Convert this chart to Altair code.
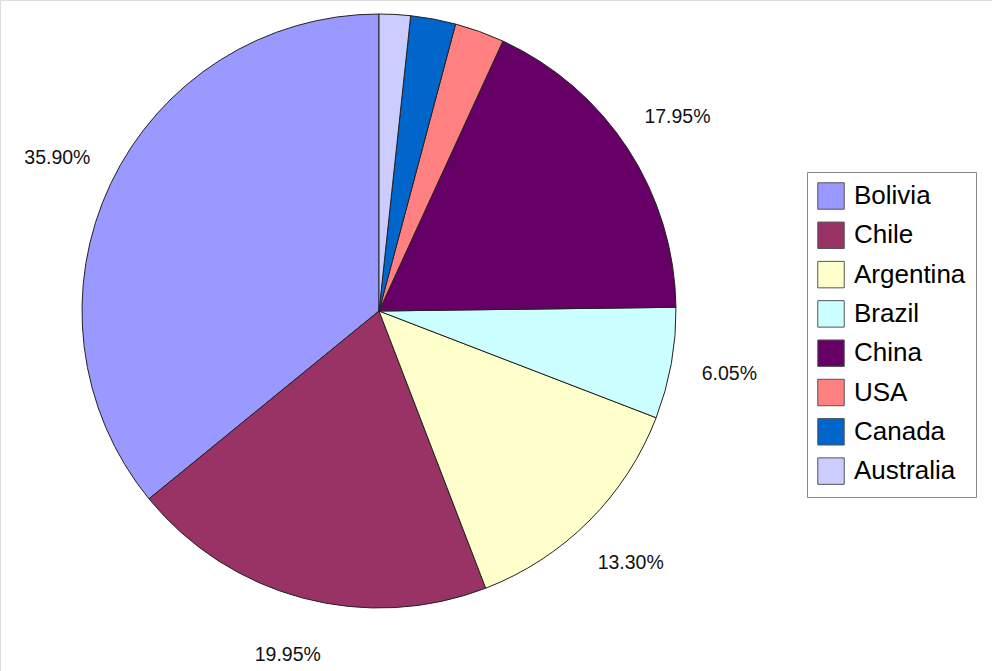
import altair as alt
import pandas as pd

countries = ["Bolivia", "Chile", "Argentina", "Brazil", "China", "USA", "Canada", "Australia"]
shares = [35.90, 19.95, 13.30, 6.05, 17.95, 2.70, 2.45, 1.70]
labels = ["35.90%", "19.95%", "13.30%", "6.05%", "17.95%", "", "", ""]
clockwise_order = [7, 6, 5, 4, 3, 2, 1, 0]
colors = ["#9999FF", "#993366", "#FFFFCC", "#CCFFFF", "#660066", "#FF8080", "#0066CC", "#CCCCFF"]

df = pd.DataFrame({
    "country": countries,
    "share": shares,
    "label": labels,
    "ord": clockwise_order,
})

base = alt.Chart(df).encode(
    theta=alt.Theta("share:Q", stack=True),
    order=alt.Order("ord:Q", sort="ascending"),
    x=alt.value(379),
    y=alt.value(311),
)

pie = base.mark_arc(radius=297, stroke="#222222", strokeWidth=1).encode(
    color=alt.Color(
        "country:N",
        scale=alt.Scale(domain=countries, range=colors),
        legend=alt.Legend(
            title=None,
            orient="none",
            legendX=807,
            legendY=172,
            symbolType="square",
            symbolSize=700,
            symbolStrokeColor="#555555",
            symbolStrokeWidth=1,
            labelFontSize=26,
            labelFont="Liberation Sans",
            labelColor="#000000",
            labelOffset=9,
            rowPadding=7.3,
            padding=10,
            strokeColor="#888888",
            fillColor="#FFFFFF",
            labelLimit=300,
        ),
    )
)

text = base.mark_text(
    radius=356, fontSize=19.5, font="Liberation Sans", color="#111111",
    align="center", baseline="middle",
).encode(text="label:N")

chart = (pie + text).properties(
    width=992, height=671, padding=0,
    autosize=alt.AutoSizeParams(type="none"),
).configure_view(stroke=None).configure(background="#FFFFFF")

chart.save("out.html", embed_options={"renderer": "svg", "actions": False})
